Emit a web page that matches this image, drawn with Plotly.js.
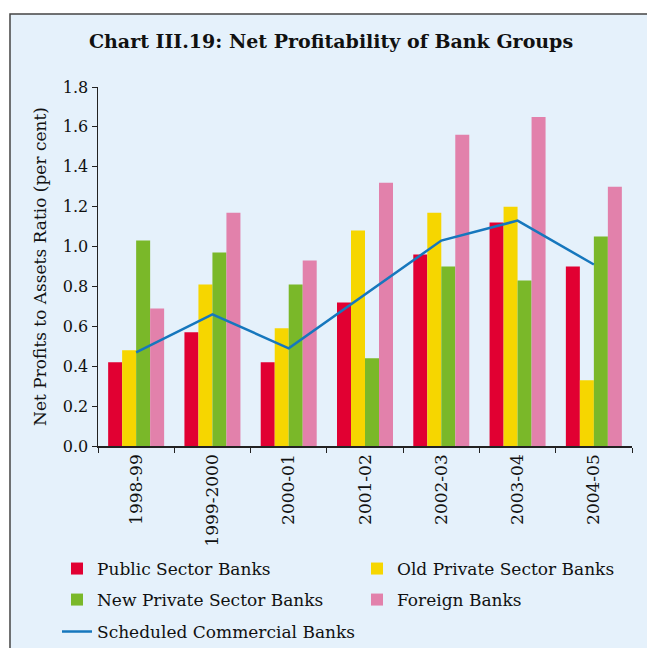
<!DOCTYPE html>
<html><head><meta charset="utf-8">
<script src="https://cdn.plot.ly/plotly-3.0.1.min.js"></script>
<style>html,body{margin:0;padding:0;background:#fff}#chart{width:647px;height:648px}</style>
</head><body><div id="chart"></div>
<script>
var years = ["1998-99","1999-2000","2000-01","2001-02","2002-03","2003-04","2004-05"];
var publicSector = [0.42,0.57,0.42,0.72,0.96,1.12,0.90];
var oldPrivate = [0.48,0.81,0.59,1.08,1.17,1.20,0.33];
var newPrivate = [1.03,0.97,0.81,0.44,0.90,0.83,1.05];
var foreign = [0.69,1.17,0.93,1.32,1.56,1.65,1.30];
var scheduledCommercial = [0.47,0.66,0.49,0.76,1.03,1.13,0.91];
var yTicks = [0,0.2,0.4,0.6,0.8,1.0,1.2,1.4,1.6,1.8];
var yTickText = ["0.0","0.2","0.4","0.6","0.8","1.0","1.2","1.4","1.6","1.8"];

var serif = "DejaVu Serif, serif";
function bar(name, y, color, lg){
  return {type:"bar", name:name, x:years, y:y, marker:{color:color, line:{width:0}}, legend:lg};
}
var traces = [
  bar("Public Sector Banks", publicSector, "#e10032", "legend"),
  bar("Old Private Sector Banks", oldPrivate, "#f6d600", "legend"),
  bar("New Private Sector Banks", newPrivate, "#7ab829", "legend2"),
  bar("Foreign Banks", foreign, "#e281ab", "legend2"),
  {type:"scatter", mode:"lines", name:"Scheduled Commercial Banks", x:years, y:scheduledCommercial,
   line:{color:"#1677bd", width:2.5}, legend:"legend3"}
];
function leg(y){
  return {orientation:"h", x:-0.0768, xanchor:"left", y:y, yanchor:"middle", bgcolor:"rgba(0,0,0,0)",
    font:{family:serif, size:17, color:"#111"}, entrywidth:255, entrywidthmode:"pixels", traceorder:"normal"};
}
var layout = {
  width:647, height:648,
  margin:{l:98, r:15, t:87, b:202, autoexpand:false},
  paper_bgcolor:"#ffffff", plot_bgcolor:"rgba(0,0,0,0)",
  title:{text:"<b>Chart III.19: Net Profitability of Bank Groups</b>", font:{family:serif, size:19, color:"#111"},
         x:0.5116, xref:"container", xanchor:"center", yref:"container", y:1-41/648, yanchor:"middle"},
  barmode:"group", bargap:0.266, bargroupgap:0,
  xaxis:{type:"category", tickangle:-90, tickson:"boundaries", ticks:"outside", ticklen:5, tickcolor:"#222",
         showline:true, linecolor:"#222", linewidth:1.5, showgrid:false, zeroline:false, automargin:false,
         tickfont:{family:serif, size:17, color:"#111"}},
  yaxis:{range:[0,1.8], tickvals:yTicks, ticktext:yTickText, ticks:"outside", ticklen:5, tickcolor:"#222",
         showline:true, linecolor:"#222", linewidth:1.5, showgrid:false, zeroline:false, automargin:false,
         tickfont:{family:serif, size:16, color:"#111"},
         title:{text:"Net Profits to Assets Ratio (per cent)", font:{family:serif, size:17, color:"#111"}, standoff:12}},
  legend:leg(-0.3426), legend2:leg(-0.429), legend3:leg(-0.518),
  shapes:[{type:"rect", xref:"paper", yref:"paper", x0:-0.1648, x1:1.06, y0:-0.62, y1:1.2033,
           fillcolor:"#e5f1fb", line:{color:"#444", width:1.5}, layer:"below"}]
};
Plotly.newPlot("chart", traces, layout, {displayModeBar:false, staticPlot:true});
</script></body></html>
